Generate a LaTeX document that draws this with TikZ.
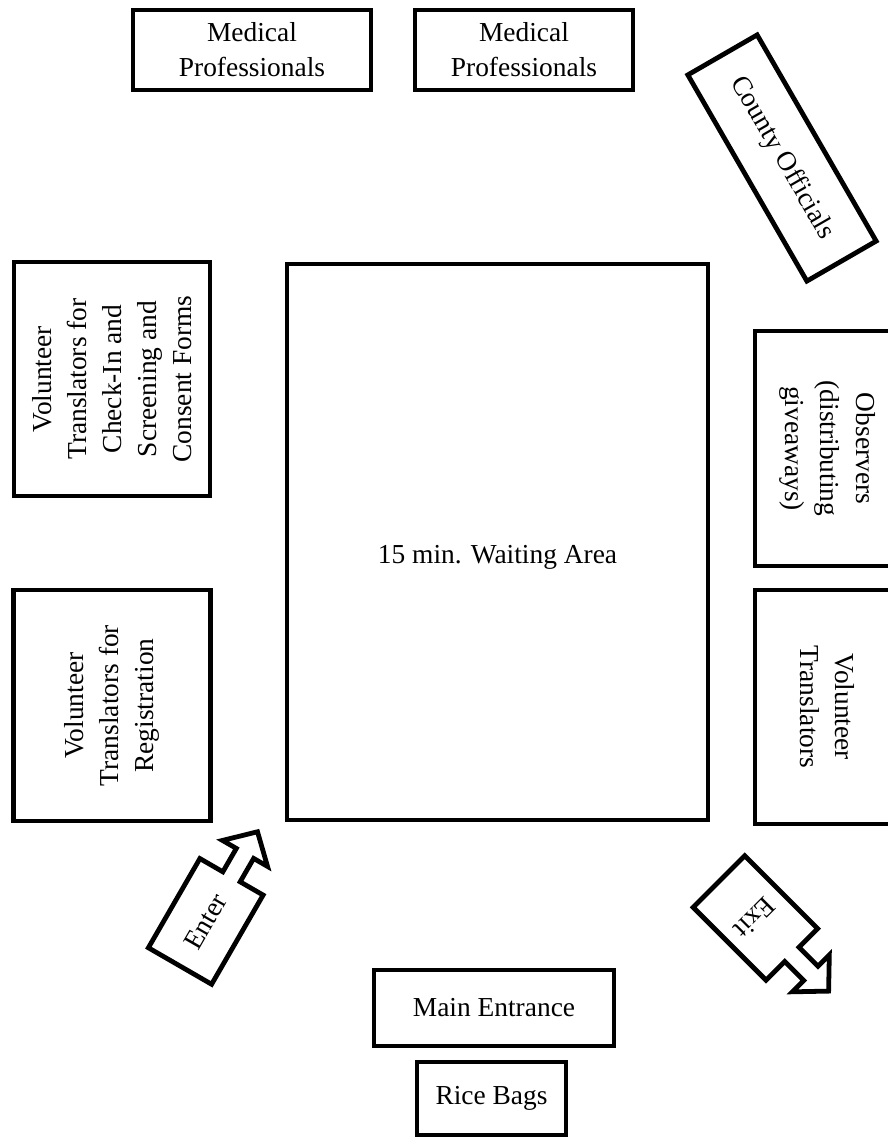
\documentclass[tikz,border=0pt]{standalone}
\usepackage{fontspec}
\setmainfont{Liberation Serif}
\begin{document}
\begin{tikzpicture}[x=0.025cm,y=0.025cm,
table/.style={
% The shape:
rectangle,
draw=black,
line width=3.4pt,
inner sep=0pt,
align=center,
font=\fontsize{19.5}{25}\selectfont
},
label/.style={
inner sep=0pt,
font=\fontsize{19.5}{25}\selectfont
},
door/.style={
draw=black,
line width=3.4pt,
line join=miter
}
]
\useasboundingbox (0,0) rectangle (888,-1139);
% Top row:
\node (medA) [table,minimum width=5.95cm,minimum height=2cm] at (252,-50) {Medical\\Professionals};
\node (medB) [table,minimum width=5.45cm,minimum height=2cm] at (524,-50) {Medical\\Professionals};
\node (county) [table,minimum width=5.95cm,minimum height=2cm,rotate=-60] at (782,-158) {County Officials};
% Left side:
\node (checkin) [table,minimum width=5.85cm,minimum height=4.9cm,rotate=90] at (112,-379) {Volunteer\\Translators for\\Check-In and\\Screening and\\Consent Forms};
\node (regist) [table,minimum width=5.775cm,minimum height=4.925cm,rotate=90] at (112,-705.5) {Volunteer\\Translators for\\Registration};
% Middle:
\node (wait) [table,minimum width=10.525cm,minimum height=13.9cm,text height=1.2cm] at (497.5,-542) {15 min. Waiting Area};
% Right side:
\node (observ) [table,minimum width=5.875cm,minimum height=3.625cm,rotate=-90] at (827.5,-448.5) {Observers\\(distributing\\giveaways)};
\node (transl) [table,minimum width=5.85cm,minimum height=3.625cm,rotate=-90] at (827.5,-707) {Volunteer\\Translators};
% Bottom:
\node (mainent) [table,minimum width=6cm,minimum height=1.9cm] at (494,-1008) {Main Entrance};
\node (rice) [table,minimum width=3.725cm,minimum height=1.825cm] at (491.5,-1098.5) {Rice Bags};
% Enter and exit arrows
\begin{scope}[shift={(180,-966)},rotate=60]
\draw[door] (0,-36.5) -- (103,-36.5) -- (103,-10) -- (130,-10) -- (130,-26) -- (155,0) -- (130,26) -- (130,10) -- (103,10) -- (103,36.5) -- (0,36.5) -- cycle;
\node (enter) [label,rotate=60] at (51,0) {Enter};
\end{scope}
\begin{scope}[shift={(719,-881.5)},rotate=-45]
\draw[door] (0,-36.5) -- (103,-36.5) -- (103,-10) -- (130,-10) -- (130,-26) -- (155,0) -- (130,26) -- (130,10) -- (103,10) -- (103,36.5) -- (0,36.5) -- cycle;
\node (exit) [label,rotate=225] at (51,0) {Exit};
\end{scope}
\end{tikzpicture}
\end{document}
